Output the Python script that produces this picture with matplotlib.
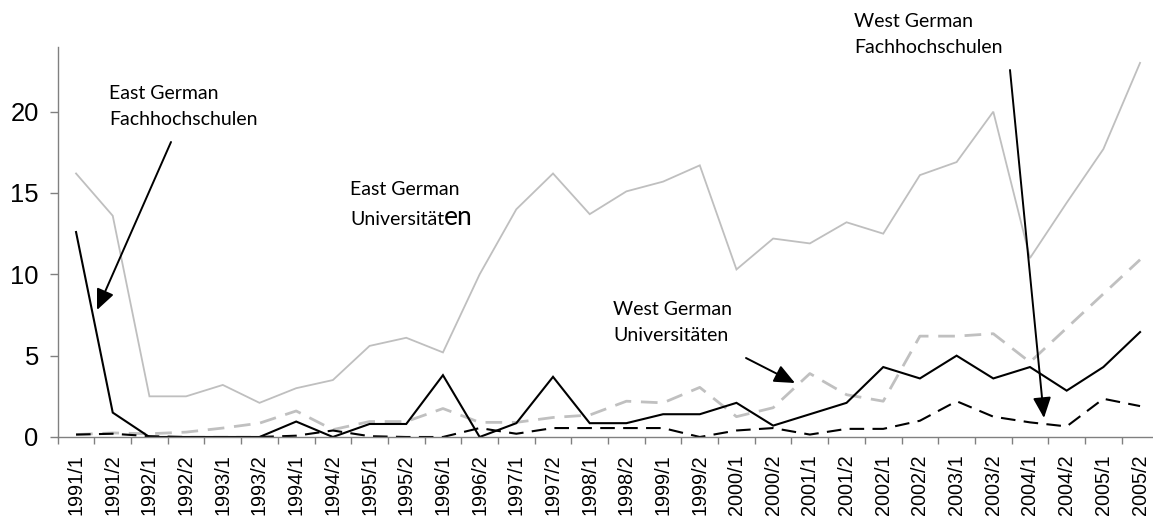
import matplotlib
matplotlib.use("Agg")
import matplotlib.pyplot as plt

periods = ["1991/1", "1991/2", "1992/1", "1992/2", "1993/1", "1993/2", "1994/1", "1994/2",
           "1995/1", "1995/2", "1996/1", "1996/2", "1997/1", "1997/2", "1998/1", "1998/2",
           "1999/1", "1999/2", "2000/1", "2000/2", "2001/1", "2001/2", "2002/1", "2002/2",
           "2003/1", "2003/2", "2004/1", "2004/2", "2005/1", "2005/2"]

east_uni = [16.2, 13.6, 2.5, 2.5, 3.2, 2.1, 3.0, 3.5, 5.6, 6.1, 5.2, 10.0, 14.0, 16.2, 13.7,
            15.1, 15.7, 16.7, 10.3, 12.2, 11.9, 13.2, 12.5, 16.1, 16.9, 20.0, 11.0, 14.4, 17.7, 23.0]
west_uni = [0.15, 0.25, 0.2, 0.3, 0.55, 0.85, 1.6, 0.45, 0.95, 0.95, 1.75, 0.9, 0.9, 1.2, 1.35,
            2.2, 2.1, 3.05, 1.25, 1.8, 3.9, 2.6, 2.2, 6.2, 6.2, 6.35, 4.6, 6.7, 8.8, 10.9]
east_fh = [12.6, 1.5, 0.0, 0.0, 0.0, 0.0, 0.95, 0.0, 0.8, 0.8, 3.8, 0.0, 0.85, 3.7, 0.85,
           0.85, 1.4, 1.4, 2.1, 0.7, 1.4, 2.1, 4.3, 3.6, 5.0, 3.6, 4.3, 2.85, 4.3, 6.45]
west_fh = [0.15, 0.2, 0.05, 0.0, 0.0, 0.0, 0.08, 0.4, 0.05, 0.0, 0.0, 0.55, 0.2, 0.55, 0.55,
           0.55, 0.55, 0.0, 0.4, 0.55, 0.15, 0.5, 0.5, 1.0, 2.2, 1.25, 0.9, 0.65, 2.35, 1.9]

y_ticks = [0, 5, 10, 15, 20]

W, H = 1153, 516
fig = plt.figure(figsize=(W / 100, H / 100), dpi=100)
ax = fig.add_axes([57.7 / W, 79 / H, 1100.7 / W, 390.4 / H])

x = list(range(len(periods)))
ax.plot(x, east_uni, color="#bfbfbf", lw=1.3, solid_joinstyle="miter")
ax.plot(x, west_uni, color="#c0c0c0", lw=2.0, dashes=(6, 3.5))
ax.plot(x, east_fh, color="black", lw=1.5, solid_joinstyle="miter")
ax.plot(x, west_fh, color="black", lw=1.5, dashes=(7, 4))

ax.set_xlim(-0.5, len(periods) - 0.5)
ax.set_ylim(0, 24)
ax.set_yticks(y_ticks)
ax.set_xticks(x)
ax.set_xticklabels(periods, rotation=90, fontsize=14.3, family="Liberation Sans")
ax.set_xticks([i - 0.5 for i in range(len(periods) + 1)], minor=True)
ax.tick_params(axis="x", which="major", length=0, pad=12.5)
ax.tick_params(axis="x", which="minor", length=5, color="#808080", width=1)
ax.tick_params(axis="y", length=6, color="#808080", width=1, pad=7.7, labelsize=18.4)
for lab in ax.get_yticklabels():
    lab.set_family("Liberation Sans")
for s in ["top", "right"]:
    ax.spines[s].set_visible(False)
for s in ["left", "bottom"]:
    ax.spines[s].set_color("#808080")
    ax.spines[s].set_linewidth(1)

fnt = "Lato"
fs = 14


def fig_px(xp, yp):
    # figure pixel coordinates (from top-left) -> figure fraction
    return (xp / W, 1 - yp / H)


def label(xp, yb, lines):
    for i, line in enumerate(lines):
        fig.text(xp / W, 1 - (yb + i * 26) / H, line, family=fnt, fontsize=fs,
                 ha="left", va="baseline")


arrow_kw = dict(arrowstyle="-|>,head_length=1.25,head_width=0.55", color="black", lw=1.4,
                shrinkA=0, shrinkB=0)

label(109, 99, ["East German", "Fachhochschulen"])
ax.annotate("", xy=fig_px(97, 310), xytext=fig_px(171, 142),
            xycoords="figure fraction", textcoords="figure fraction", arrowprops=arrow_kw)

fig.text(350 / W, 1 - 195 / H, "East German", family=fnt, fontsize=fs, ha="left", va="baseline")
t1 = fig.text(350 / W, 1 - 225 / H, "Universität", family=fnt, fontsize=fs, ha="left", va="baseline")
fig.canvas.draw()
bb = t1.get_window_extent()
fig.text(bb.x1 / W, 1 - 225 / H, "en", family=fnt, fontsize=19, ha="left", va="baseline")

label(613, 315, ["West German", "Universitäten"])
ax.annotate("", xy=fig_px(795, 383), xytext=fig_px(746, 358),
            xycoords="figure fraction", textcoords="figure fraction", arrowprops=arrow_kw)

label(854, 27, ["West German", "Fachhochschulen"])
ax.annotate("", xy=fig_px(1044, 418), xytext=fig_px(1010, 70),
            xycoords="figure fraction", textcoords="figure fraction", arrowprops=arrow_kw)

fig.savefig("out.png", dpi=100)
